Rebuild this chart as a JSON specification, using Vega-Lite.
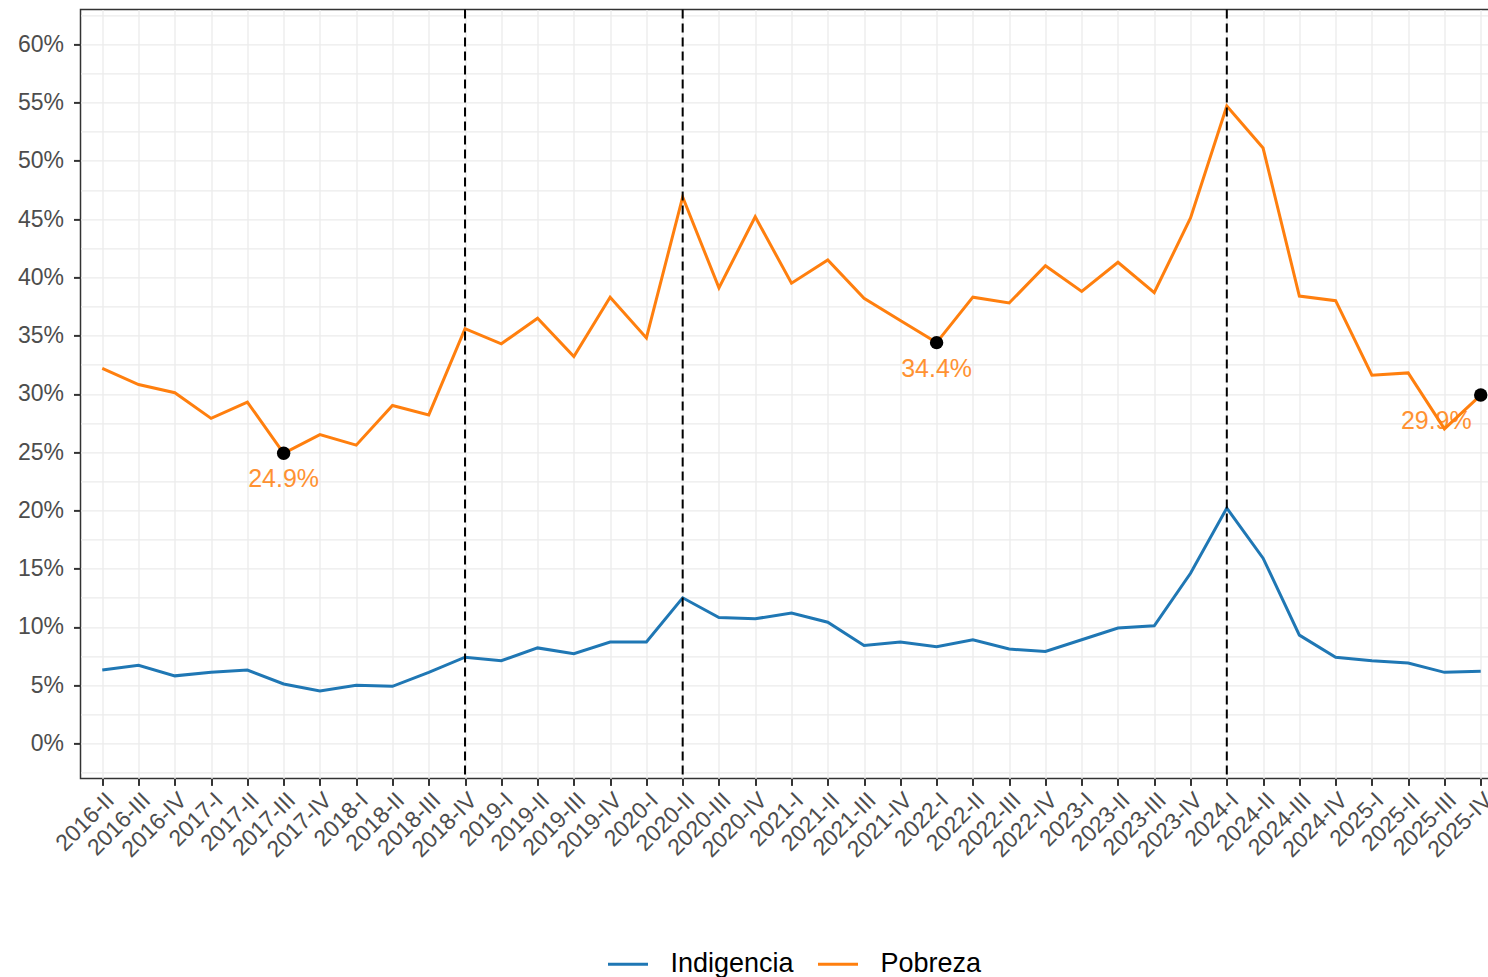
{
  "$schema": "https://vega.github.io/schema/vega-lite/v6.json",
  "autosize": {"type": "none"},
  "padding": {"left": 80.5, "top": 9.4, "right": 0, "bottom": 199},
  "width": 1422,
  "height": 769,
  "background": "white",
  "config": {
    "font": "Liberation Sans",
    "view": {"stroke": "#333333", "strokeWidth": 1.5},
    "axis": {
      "labelFont": "Liberation Sans",
      "labelColor": "#4d4d4d",
      "labelFontSize": 23,
      "tickColor": "#333333",
      "tickSize": 7,
      "tickWidth": 2,
      "domain": false,
      "gridColor": "#ebebeb",
      "gridWidth": 1.3,
      "title": null
    },
    "legend": {
      "orient": "none",
      "legendX": 526,
      "legendY": 933,
      "direction": "horizontal",
      "title": null,
      "symbolType": "stroke",
      "symbolSize": 1600,
      "symbolStrokeWidth": 3,
      "labelFont": "Liberation Sans",
      "labelFontSize": 27,
      "labelColor": "#000000",
      "labelOffset": 21,
      "columnPadding": 17
    }
  },
  "data": {
    "values": [
      {"q": "2016-II", "Indigencia": 0.063, "Pobreza": 0.322},
      {"q": "2016-III", "Indigencia": 0.067, "Pobreza": 0.308},
      {"q": "2016-IV", "Indigencia": 0.058, "Pobreza": 0.301},
      {"q": "2017-I", "Indigencia": 0.061, "Pobreza": 0.279},
      {"q": "2017-II", "Indigencia": 0.063, "Pobreza": 0.293},
      {"q": "2017-III", "Indigencia": 0.051, "Pobreza": 0.249},
      {"q": "2017-IV", "Indigencia": 0.045, "Pobreza": 0.265},
      {"q": "2018-I", "Indigencia": 0.050, "Pobreza": 0.256},
      {"q": "2018-II", "Indigencia": 0.049, "Pobreza": 0.290},
      {"q": "2018-III", "Indigencia": 0.061, "Pobreza": 0.282},
      {"q": "2018-IV", "Indigencia": 0.074, "Pobreza": 0.356},
      {"q": "2019-I", "Indigencia": 0.071, "Pobreza": 0.343},
      {"q": "2019-II", "Indigencia": 0.082, "Pobreza": 0.365},
      {"q": "2019-III", "Indigencia": 0.077, "Pobreza": 0.332},
      {"q": "2019-IV", "Indigencia": 0.087, "Pobreza": 0.383},
      {"q": "2020-I", "Indigencia": 0.087, "Pobreza": 0.348},
      {"q": "2020-II", "Indigencia": 0.125, "Pobreza": 0.469},
      {"q": "2020-III", "Indigencia": 0.108, "Pobreza": 0.391},
      {"q": "2020-IV", "Indigencia": 0.107, "Pobreza": 0.452},
      {"q": "2021-I", "Indigencia": 0.112, "Pobreza": 0.395},
      {"q": "2021-II", "Indigencia": 0.104, "Pobreza": 0.415},
      {"q": "2021-III", "Indigencia": 0.084, "Pobreza": 0.382},
      {"q": "2021-IV", "Indigencia": 0.087, "Pobreza": 0.363},
      {"q": "2022-I", "Indigencia": 0.083, "Pobreza": 0.344},
      {"q": "2022-II", "Indigencia": 0.089, "Pobreza": 0.383},
      {"q": "2022-III", "Indigencia": 0.081, "Pobreza": 0.378},
      {"q": "2022-IV", "Indigencia": 0.079, "Pobreza": 0.410},
      {"q": "2023-I", "Indigencia": 0.089, "Pobreza": 0.388},
      {"q": "2023-II", "Indigencia": 0.099, "Pobreza": 0.413},
      {"q": "2023-III", "Indigencia": 0.101, "Pobreza": 0.387},
      {"q": "2023-IV", "Indigencia": 0.146, "Pobreza": 0.451},
      {"q": "2024-I", "Indigencia": 0.202, "Pobreza": 0.547},
      {"q": "2024-II", "Indigencia": 0.159, "Pobreza": 0.511},
      {"q": "2024-III", "Indigencia": 0.093, "Pobreza": 0.384},
      {"q": "2024-IV", "Indigencia": 0.074, "Pobreza": 0.380},
      {"q": "2025-I", "Indigencia": 0.071, "Pobreza": 0.316},
      {"q": "2025-II", "Indigencia": 0.069, "Pobreza": 0.318},
      {"q": "2025-III", "Indigencia": 0.061, "Pobreza": 0.270},
      {"q": "2025-IV", "Indigencia": 0.062, "Pobreza": 0.299}
    ]
  },
  "encoding": {
    "x": {
      "field": "q",
      "type": "ordinal",
      "scale": {"type": "point", "padding": 0.6},
      "axis": {"labelAngle": -45, "labelPadding": 3, "grid": true}
    }
  },
  "resolve": {"axis": {"y": "independent"}},
  "layer": [
    {
      "transform": [{"fold": ["Indigencia", "Pobreza"], "as": ["serie", "valor"]}],
      "mark": {"type": "line", "strokeWidth": 3},
      "encoding": {
        "y": {
          "field": "valor",
          "type": "quantitative",
          "scale": {"domain": [-0.03, 0.63], "nice": false, "zero": false},
          "axis": {
            "orient": "left",
            "values": [0, 0.05, 0.1, 0.15, 0.2, 0.25, 0.3, 0.35, 0.4, 0.45, 0.5, 0.55, 0.6],
            "format": ".0%",
            "labelPadding": 10,
            "grid": true
          }
        },
        "color": {
          "field": "serie",
          "type": "nominal",
          "scale": {"domain": ["Indigencia", "Pobreza"], "range": ["#1f77b4", "#ff7f0e"]}
        }
      }
    },
    {
      "data": {"values": [{"q": "2018-IV"}, {"q": "2020-II"}, {"q": "2024-I"}]},
      "mark": {"type": "rule", "color": "#000000", "strokeWidth": 2, "strokeDash": [9, 5]},
      "encoding": {}
    },
    {
      "transform": [{"filter": "indexof(['2017-III', '2022-I', '2025-IV'], datum.q) >= 0"}],
      "mark": {"type": "point", "filled": true, "color": "#000000", "size": 180, "opacity": 1},
      "encoding": {
        "y": {
          "field": "Pobreza",
          "type": "quantitative",
          "axis": {
            "orient": "left",
            "values": [-0.025, 0.025, 0.075, 0.125, 0.175, 0.225, 0.275, 0.325, 0.375, 0.425, 0.475, 0.525, 0.575, 0.625],
            "labels": false,
            "ticks": false,
            "domain": false,
            "grid": true,
            "gridWidth": 1.1
          }
        }
      }
    },
    {
      "transform": [{"filter": "indexof(['2017-III', '2022-I'], datum.q) >= 0"}],
      "mark": {"type": "text", "color": "#ff7f0e", "opacity": 0.85, "fontSize": 25, "font": "Liberation Sans", "dy": 26, "align": "center", "baseline": "middle"},
      "encoding": {"y": {"field": "Pobreza", "type": "quantitative", "axis": null}, "text": {"field": "Pobreza", "type": "quantitative", "format": ".1%"}}
    },
    {
      "transform": [{"filter": "datum.q === '2025-IV'"}],
      "mark": {"type": "text", "color": "#ff7f0e", "opacity": 0.85, "fontSize": 25, "font": "Liberation Sans", "dy": 26, "dx": -9, "align": "right", "baseline": "middle"},
      "encoding": {"y": {"field": "Pobreza", "type": "quantitative", "axis": null}, "text": {"field": "Pobreza", "type": "quantitative", "format": ".1%"}}
    }
  ]
}
